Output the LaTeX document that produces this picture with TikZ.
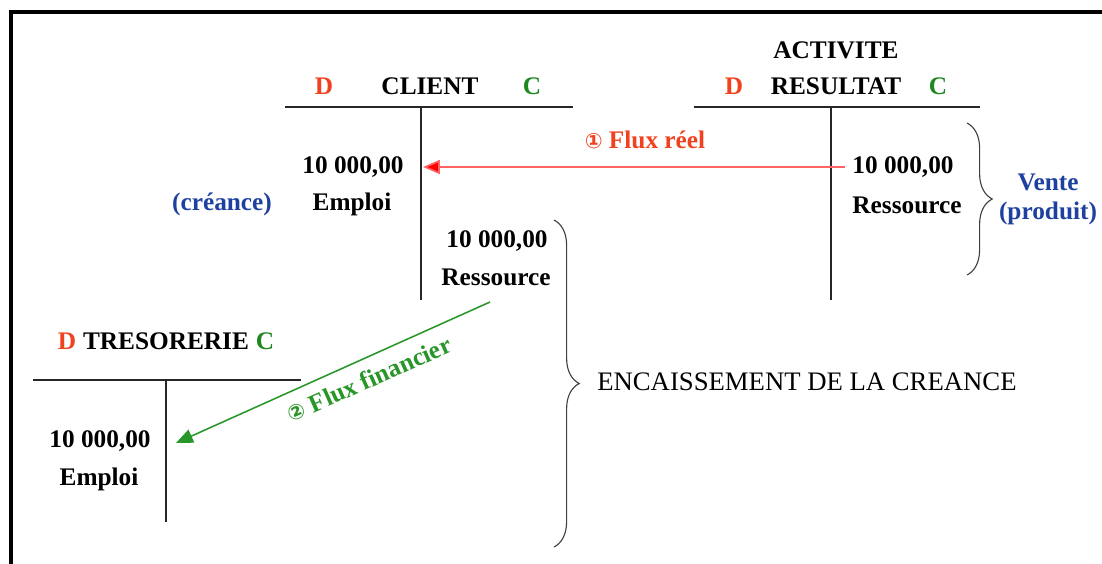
\documentclass[tikz,border=0pt]{standalone}
\usepackage{fontspec}
\setmainfont{Liberation Serif}
\newfontfamily\circfont{DejaVu Sans}
\usetikzlibrary{positioning}
\usetikzlibrary{arrows.meta}
\usetikzlibrary{decorations.pathreplacing}

\definecolor{debitred}{RGB}{240,66,30}
\definecolor{creditgreen}{RGB}{30,135,30}
\definecolor{noteblue}{RGB}{30,65,160}
\definecolor{flowred}{RGB}{255,100,100}
\definecolor{flowgreen}{RGB}{40,150,40}

\tikzset{
  acct/.style={font=\fontsize{18}{21}\selectfont\bfseries, inner sep=0pt},
  note/.style={acct, text=noteblue},
  tline/.style={line width=1.1pt, black!85},
  curly/.style={decorate, decoration={brace, amplitude=0.63cm}, line width=0.8pt, black!75},
}

\begin{document}
\begin{tikzpicture}[x=0.025cm, y=-0.025cm]

            % \draw [help lines] (0,0) grid (1102,564);
            \useasboundingbox (0,0) rectangle (1102,564);

            \draw[line width=3pt] (11,564) -- (11,12) -- (1102,12);

            % comptes en T
            \draw[tline] (285,107) -- (573,107);
            \draw[tline] (421,107) -- (421,300);
            \draw[tline] (694,107) -- (980,107);
            \draw[tline] (831,107) -- (831,300);
            \draw[tline] (33,380) -- (301,380);
            \draw[tline] (166,380) -- (166,522);

            \path   (430,86) node (cliname) [acct] {CLIENT}
                    (324,86) node (clid) [acct,text=debitred] {D}
                    (532,86) node (clic) [acct,text=creditgreen] {C}
                    (836,50) node (actname) [acct] {ACTIVITE}
                    (836,86) node (resname) [acct] {RESULTAT}
                    (734,86) node (resd) [acct,text=debitred] {D}
                    (938,86) node (resc) [acct,text=creditgreen] {C}
                    (166,341) node (trename) [acct] {TRESORERIE}
                    (67,341) node (tred) [acct,text=debitred] {D}
                    (265,341) node (trec) [acct,text=creditgreen] {C};

            \path   (353,167) node (cliamt) [acct] {10 000,00}
                    (352,204) node (cliemp) [acct] {Emploi}
                    (497,241) node (clireamt) [acct] {10 000,00}
                    (496,277) node (clires) [acct] {Ressource}
                    (903,167) node (resamt) [acct] {10 000,00}
                    (907,205) node (resres) [acct] {Ressource}
                    (100,441) node (treamt) [acct] {10 000,00}
                    (99,479) node (treemp) [acct] {Emploi};

            \path   (222,204) node (creance) [note] {(créance)}
                    (1048,199) node (vente) [note,align=center,font=\fontsize{18}{20.5}\selectfont\bfseries] {Vente\\(produit)}
                    (597,382) node (encaiss) [anchor=west,inner sep=0pt,font=\fontsize{19}{22}\selectfont] {ENCAISSEMENT DE LA CREANCE};

            % accolades
            \draw[curly] (967,123) -- (967,275);
            \draw[curly] (554,220) -- (554,547);

            % flux
            \coordinate (flux1end) at (423,167);
            \coordinate (flux2from) at (490,302);
            \coordinate (flux2end) at (176,443);

            \draw[arrows = -{Triangle[length=12pt,width=10pt,fill=red]},flowred,line width=1.2pt,shorten <=5pt] (node cs: name =resamt ) -- (node cs: name =flux1end);
            \draw[arrows = -{Triangle[length=12pt,width=10pt,fill=flowgreen]},flowgreen,line width=1.1pt] (node cs: name =flux2from ) -- (node cs: name =flux2end);

            \node (flux1) [acct,text=debitred] at (645,140)
            {
            {\circfont\fontsize{15}{15}\selectfont ①} Flux réel
            };

            \node (flux2) [acct,text=flowgreen,rotate=24] at (369,379)
            {
            {\circfont\fontsize{15}{15}\selectfont ②} Flux financier
            };

\end{tikzpicture}
\end{document}
